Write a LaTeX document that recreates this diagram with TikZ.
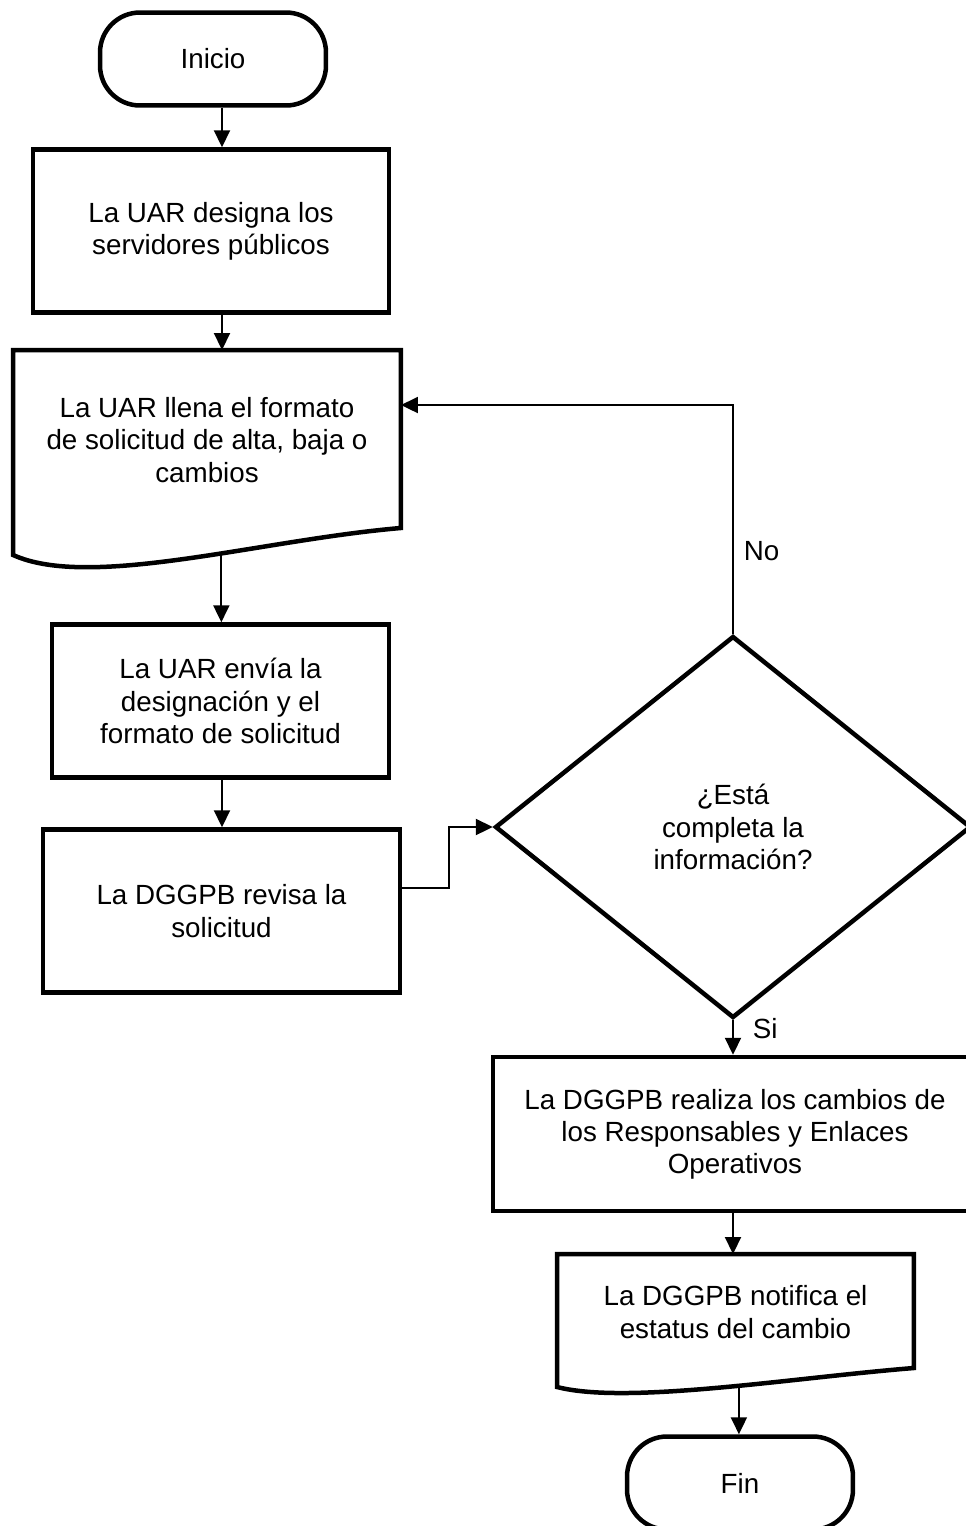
\documentclass[tikz,border=0pt]{standalone}
\usepackage{fontspec}
\setmainfont{Liberation Sans}
\usetikzlibrary{shapes.geometric,arrows.meta,calc}

\begin{document}
\begin{tikzpicture}[
  x=0.02cm, y=-0.02cm,
  every node/.style={font=\fontsize{15.8}{18.3}\selectfont,align=center},
  shapeline/.style={line width=0.09cm},
  terminal/.style={draw,shapeline,rounded corners=0.8cm,minimum width=4.52cm,minimum height=1.86cm},
  process/.style={draw,shapeline,rectangle},
  docbox/.style={rectangle,outer sep=0pt},
  decision/.style={draw,shapeline,diamond,inner sep=0pt},
  flow/.style={line width=0.04cm,-{Triangle[length=0.34cm,width=0.32cm]}}
  ]

\useasboundingbox (0,0) rectangle (965,1526);

\node[terminal] (inicio) at (213,59) {Inicio};
\node[process,minimum width=7.12cm,minimum height=3.26cm] (designa) at (211,231) {La UAR designa los\\servidores públicos};
\node[docbox,minimum width=7.76cm,minimum height=3.6cm] (llena) at (207,440) {La UAR llena el formato\\de solicitud de alta, baja o\\cambios};
\draw[shapeline] (llena.north west) -- (llena.north east) -- ($(llena.south east)+(0,-2)$)
  .. controls +(-141,12) and +(77,35) .. ($(llena.south west)+(0,25)$) coordinate[pos=0.41] (llenaout) -- cycle;
\node[process,minimum width=6.74cm,minimum height=3.06cm] (envia) at (220.5,701) {La UAR envía la\\designación y el\\formato de solicitud};
\node[process,minimum width=7.14cm,minimum height=3.26cm] (revisa) at (221.5,911) {La DGGPB revisa la\\solicitud};
\node[decision,minimum width=9.52cm,minimum height=7.64cm] (completa) at (733,827) {¿Está\\completa la\\información?};
\node[process,minimum width=9.68cm,minimum height=3.08cm] (realiza) at (735,1134) {La DGGPB realiza los cambios de\\los Responsables y Enlaces\\Operativos};
\node[docbox,minimum width=7.14cm,minimum height=2.32cm] (notifica) at (735.5,1312) {La DGGPB notifica el\\estatus del cambio};
\draw[shapeline] (notifica.north west) -- (notifica.north east) -- ($(notifica.south east)+(0,-2)$)
  .. controls +(-124,10) and +(70,18) .. ($(notifica.south west)+(0,17)$) coordinate[pos=0.44] (notificaout) -- cycle;
\node[terminal] (fin) at (740,1483) {Fin};

\coordinate (col) at (222,0);
\draw[flow] (inicio.south -| col) -- (designa.north -| col);
\draw[flow] (designa.south -| col) -- (llena.north -| col);
\draw[flow] (llenaout) -- (llenaout |- envia.north);
\draw[flow] (envia.south -| col) -- (revisa.north -| col);
\draw[flow] ($(revisa.east)+(0,-23)$) -- ++(47,0) |- (completa.west);
\draw[flow] (completa.north) |- node[pos=0.18,right,xshift=0.08cm] {No} ($(llena.north east)+(0,55)$);
\draw[flow] (completa.south) -- node[pos=0.25,right,xshift=0.26cm] {Si} (completa.south |- realiza.north);
\draw[flow] (realiza.south -| completa.south) -- (notifica.north -| completa.south);
\draw[flow] (notificaout) -- (notificaout |- fin.north);

\end{tikzpicture}
\end{document}
